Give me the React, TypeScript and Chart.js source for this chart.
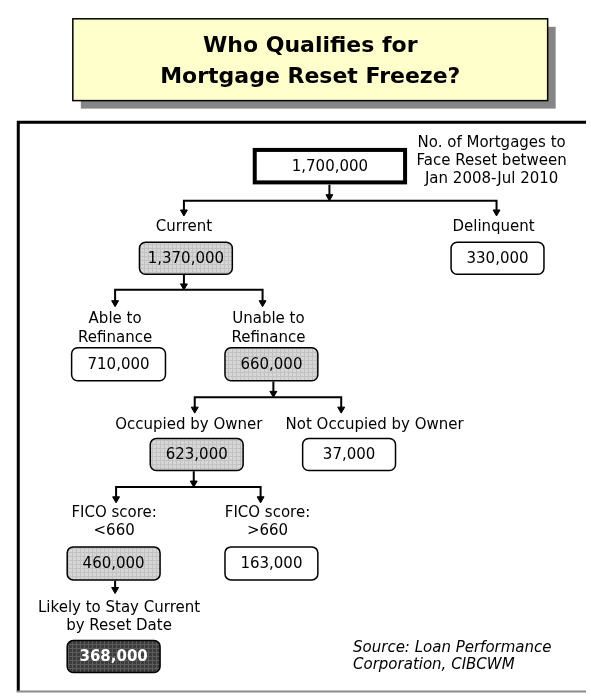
import React, { useEffect, useRef } from "react";
import { Chart, registerables } from "chart.js";

Chart.register(...registerables);

// ---------- content ----------
const titleLines = ["Who Qualifies for", "Mortgage Reset Freeze?"];
const nodeLabels: string[][] = [
  ["No. of Mortgages to", "Face Reset between", "Jan 2008-Jul 2010"],
  ["Current"],
  ["Delinquent"],
  ["Able to", "Refinance"],
  ["Unable to", "Refinance"],
  ["Occupied by Owner"],
  ["Not Occupied by Owner"],
  ["FICO score:", "<660"],
  ["FICO score:", ">660"],
  ["Likely to Stay Current", "by Reset Date"],
];
const nodeCounts = [1700000, 1370000, 330000, 710000, 660000, 623000, 37000, 460000, 163000, 368000];
const nodeParents = [-1, 0, 0, 1, 1, 4, 4, 5, 5, 7];
const nodeKinds = ["root", "path", "plain", "plain", "path", "path", "plain", "path", "plain", "final"];
const sourceLines = ["Source: Loan Performance", "Corporation, CIBCWM"];

// ---------- layout (diagram units on the chart's x / y scales) ----------
const nodeBoxX = [330.5, 184, 501, 115.5, 271, 195, 350, 110.5, 271, 110.5];
const nodeBoxTop = [145, 240, 240, 347, 347, 439, 439, 549, 549, 644];
const nodeBoxW = [157, 96, 96, 97, 96, 96, 96, 96, 96, 96];
const nodeBoxH = [37, 34, 34, 35, 35, 34, 34, 35, 35, 34];
const nodeLabelX = [495, 182, 497, 112, 268, 187, 376, 111, 267, 116];
const nodeLabelY = [140, 225, 225, 319, 319, 426, 426, 515, 515, 612];
const labelLineGap = 18.5;
const childArrowX = [0, 182, 500, 112, 262, 193, 342, 113, 260, 112];
const childArrowTip = [0, 214, 214, 306, 306, 414, 414, 505, 505, 597];
const parentStemX = [330, 182, 0, 0, 273, 192, 0, 112, 0, 0];
const parentBusY = [198.5, 289, 0, 0, 398, 489, 0, 0, 0, 0];

const ARROW_R = 4;

function buildDatasets() {
  const lineSets: any[] = [];
  const arrowPts: { x: number; y: number }[] = [];
  const parents = Array.from(new Set(nodeParents.filter((p) => p >= 0)));
  parents.forEach((p) => {
    const kids = nodeParents.map((pp, i) => (pp === p ? i : -1)).filter((i) => i >= 0);
    const bottom = nodeBoxTop[p] + nodeBoxH[p];
    if (kids.length === 1) {
      const k = kids[0];
      lineSets.push([
        { x: childArrowX[k], y: bottom },
        { x: childArrowX[k], y: childArrowTip[k] - 3 },
      ]);
      arrowPts.push({ x: childArrowX[k], y: childArrowTip[k] - ARROW_R });
      return;
    }
    const bus = parentBusY[p];
    // stem
    lineSets.push([
      { x: parentStemX[p], y: bottom },
      { x: parentStemX[p], y: bus - 2 },
    ]);
    arrowPts.push({ x: parentStemX[p], y: bus - ARROW_R });
    // bus with two drops
    const a = kids[0];
    const b = kids[kids.length - 1];
    lineSets.push([
      { x: childArrowX[a], y: childArrowTip[a] - 3 },
      { x: childArrowX[a], y: bus },
      { x: childArrowX[b], y: bus },
      { x: childArrowX[b], y: childArrowTip[b] - 3 },
    ]);
    kids.forEach((k) => arrowPts.push({ x: childArrowX[k], y: childArrowTip[k] - ARROW_R }));
  });

  const datasets: any[] = lineSets.map((pts) => ({
    data: pts,
    showLine: true,
    borderColor: "#000",
    borderWidth: 2,
    pointRadius: 0,
    borderJoinStyle: "miter",
    borderCapStyle: "butt",
  }));
  datasets.push({
    data: arrowPts,
    showLine: false,
    pointStyle: "triangle",
    rotation: 180,
    pointRadius: ARROW_R,
    backgroundColor: "#000",
    borderColor: "#000",
    borderWidth: 1,
  });
  datasets.push({
    data: nodeBoxX.map((x, i) => ({ x, y: nodeBoxTop[i] + nodeBoxH[i] / 2 })),
    showLine: false,
    pointRadius: 0,
    label: "nodes",
  });
  return datasets;
}

function makePattern(ctx: CanvasRenderingContext2D, base: string, line: string) {
  const c = document.createElement("canvas");
  c.width = 4;
  c.height = 4;
  const g = c.getContext("2d")!;
  g.fillStyle = base;
  g.fillRect(0, 0, 4, 4);
  g.fillStyle = line;
  g.fillRect(0, 0, 4, 1);
  g.fillRect(0, 0, 1, 4);
  return ctx.createPattern(c, "repeat")!;
}

function roundRect(ctx: CanvasRenderingContext2D, x: number, y: number, w: number, h: number, r: number) {
  ctx.beginPath();
  ctx.moveTo(x + r, y);
  ctx.lineTo(x + w - r, y);
  ctx.arcTo(x + w, y, x + w, y + r, r);
  ctx.lineTo(x + w, y + h - r);
  ctx.arcTo(x + w, y + h, x + w - r, y + h, r);
  ctx.lineTo(x + r, y + h);
  ctx.arcTo(x, y + h, x, y + h - r, r);
  ctx.lineTo(x, y + r);
  ctx.arcTo(x, y, x + r, y, r);
  ctx.closePath();
}

const FONT = '"DejaVu Sans", Verdana, sans-serif';

const diagramPlugin = {
  id: "diagram",
  beforeDatasetsDraw(chart: any) {
    const ctx: CanvasRenderingContext2D = chart.ctx;
    const X = (v: number) => chart.scales.x.getPixelForValue(v);
    const Y = (v: number) => chart.scales.y.getPixelForValue(v);
    ctx.save();
    // title box with shadow
    const tx0 = X(69), tx1 = X(552), ty0 = Y(14), ty1 = Y(97);
    ctx.fillStyle = "#858585";
    ctx.fillRect(tx0 + 8, ty0 + 8, tx1 - tx0, ty1 - ty0);
    ctx.fillStyle = "#FFFFCC";
    ctx.fillRect(tx0, ty0, tx1 - tx0, ty1 - ty0);
    ctx.strokeStyle = "#000";
    ctx.lineWidth = 1.5;
    ctx.strokeRect(tx0, ty0, tx1 - tx0, ty1 - ty0);
    ctx.fillStyle = "#000";
    ctx.font = `bold 22px ${FONT}`;
    ctx.textAlign = "center";
    ctx.textBaseline = "alphabetic";
    ctx.fillText(titleLines[0], X(310.5), Y(48));
    ctx.fillText(titleLines[1], X(310.5), Y(79));

    // frame
    ctx.strokeStyle = "#000";
    ctx.lineWidth = 3;
    ctx.beginPath();
    ctx.moveTo(X(13.5), Y(697));
    ctx.lineTo(X(13.5), Y(119));
    ctx.lineTo(X(591), Y(119));
    ctx.stroke();
    ctx.strokeStyle = "#8a8a8a";
    ctx.lineWidth = 2;
    ctx.beginPath();
    ctx.moveTo(X(12), Y(696.5));
    ctx.lineTo(X(591), Y(696.5));
    ctx.stroke();
    ctx.restore();
  },
  afterDatasetsDraw(chart: any) {
    const ctx: CanvasRenderingContext2D = chart.ctx;
    const X = (v: number) => chart.scales.x.getPixelForValue(v);
    const Y = (v: number) => chart.scales.y.getPixelForValue(v);
    const metaIndex = chart.data.datasets.length - 1;
    const meta = chart.getDatasetMeta(metaIndex);
    const grayPat = makePattern(ctx, "#d6d6d6", "#c2c2c2");
    const darkPat = makePattern(ctx, "#3c3c3c", "#5c5c5c");
    ctx.save();
    meta.data.forEach((pt: any, i: number) => {
      const w = X(nodeBoxX[i] + nodeBoxW[i] / 2) - X(nodeBoxX[i] - nodeBoxW[i] / 2);
      const h = Y(nodeBoxTop[i] + nodeBoxH[i]) - Y(nodeBoxTop[i]);
      const x0 = pt.x - w / 2;
      const y0 = pt.y - h / 2;
      const kind = nodeKinds[i];
      if (kind === "root") {
        ctx.fillStyle = "#fff";
        ctx.fillRect(x0, y0, w, h);
        ctx.strokeStyle = "#000";
        ctx.lineWidth = 4;
        ctx.strokeRect(x0 + 2, y0 + 2, w - 4, h - 4);
      } else {
        roundRect(ctx, x0 + 0.75, y0 + 0.75, w - 1.5, h - 1.5, 6);
        ctx.fillStyle = kind === "path" ? grayPat : kind === "final" ? darkPat : "#fff";
        ctx.fill();
        ctx.strokeStyle = "#000";
        ctx.lineWidth = 1.5;
        ctx.stroke();
      }
      ctx.fillStyle = kind === "final" ? "#fff" : "#000";
      ctx.font = `${kind === "final" ? "bold " : ""}15px ${FONT}`;
      ctx.textAlign = "center";
      ctx.textBaseline = "middle";
      ctx.fillText(nodeCounts[i].toLocaleString("en-US"), pt.x, pt.y + 1);

      // labels
      ctx.fillStyle = "#000";
      ctx.font = `15px ${FONT}`;
      nodeLabels[i].forEach((line, li) => {
        ctx.fillText(line, X(nodeLabelX[i]), Y(nodeLabelY[i] + li * labelLineGap));
      });
    });
    // source note
    ctx.font = `italic 15px ${FONT}`;
    ctx.textAlign = "left";
    ctx.textBaseline = "middle";
    ctx.fillText(sourceLines[0], X(354), Y(652));
    ctx.fillText(sourceLines[1], X(354), Y(670));
    ctx.restore();
  },
};

export default function App() {
  const ref = useRef<HTMLCanvasElement>(null);
  useEffect(() => {
    const canvas = ref.current!;
    const chart = new Chart(canvas, {
      type: "scatter",
      data: { datasets: buildDatasets() },
      options: {
        animation: false,
        responsive: false,
        events: [],
        layout: { padding: 0 },
        plugins: {
          legend: { display: false },
          tooltip: { enabled: false },
          title: { display: false },
        },
        scales: {
          x: { type: "linear", min: 0, max: 591, display: false },
          y: { type: "linear", min: 0, max: 698, reverse: true, display: false },
        },
      } as any,
      plugins: [diagramPlugin],
    });
    return () => chart.destroy();
  }, []);
  return (
    <div style={{ position: "fixed", left: 0, top: 0, width: 591, height: 698, background: "#fff" }}>
      <canvas ref={ref} width={591} height={698} style={{ display: "block" }} />
    </div>
  );
}
